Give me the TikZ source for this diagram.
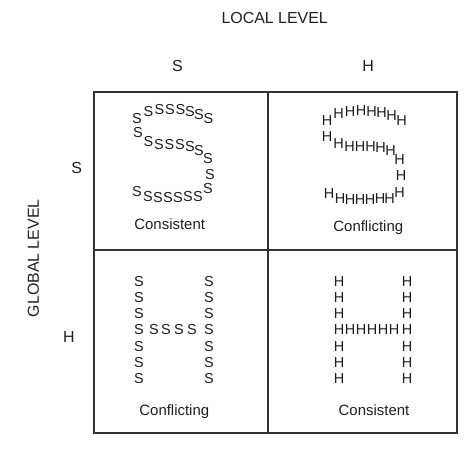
\documentclass[tikz,border=0pt]{standalone}
\usepackage{fontspec}
\setmainfont{Liberation Sans}
\definecolor{ink}{HTML}{1E1E1E}
\definecolor{rule}{HTML}{333333}
\begin{document}
\begin{tikzpicture}[x=1bp,y=-1bp,
  lbl/.style={font=\fontsize{16}{18}\selectfont, inner sep=0pt, text=ink},
  capt/.style={font=\fontsize{15}{17}\selectfont, inner sep=0pt, text=ink},
  lets/.style={font=\fontsize{14.5}{16}\selectfont, inner sep=0pt, text=ink},
  leth/.style={font=\fontsize{14.5}{16}\selectfont, inner sep=0pt, text=ink},
  gridline/.style={draw=rule, line width=1.4bp}]
\useasboundingbox (0,0) rectangle (473,451);
% grid
\draw[gridline] (94,92) rectangle (457,433);
\draw[gridline] (268,92) -- (268,433);
\draw[gridline] (94,250) -- (457,250);
% axis labels
\node[lbl, anchor=base] (local) at (274.7,23.2) {LOCAL LEVEL};
\node[lbl, anchor=base] (colS) at (177.5,71.5) {S};
\node[lbl, anchor=base] (colH) at (368,71.5) {H};
\node[lbl, rotate=90] (global) at (33.3,258.3) {GLOBAL LEVEL};
\node[lbl, anchor=base] (rowS) at (76.7,173.2) {S};
\node[lbl, anchor=base] (rowH) at (69,342.7) {H};
% top-left: S made of S
\foreach \x/\y [count=\i] in {137/119, 148.5/112, 159.5/109.5, 170/109.5, 180.5/110, 190/112, 199/114.5, 208.5/119,
  138/133, 148.5/141.5, 159/145, 169.5/145, 180/145, 190/147, 199/150.5, 208/158.5,
  210/175,
  137/192, 148/197, 158/197.5, 168/197.5, 178/197.5, 188/197, 198/197, 208/188.5}
  \node[lets, name=ss\i] at (\x,\y) {S};
% top-right: S made of H
\foreach \x/\y [count=\i] in {327/121, 338.5/114, 350/112, 361/111, 371.5/112, 381.5/113, 391.5/116, 401.5/121,
  327/137, 338.5/144, 349.5/147, 360/147, 370.5/147, 380.5/148, 390.5/151, 399.5/160,
  401/176,
  329/194, 340/199, 350/199.5, 360/199.5, 370/199.5, 380/199, 389.5/199, 399.5/193}
  \node[leth, name=sh\i] at (\x,\y) {H};
% bottom-left: H made of S
\foreach \y [count=\i] in {281.5,297.5,313.5,330,346.5,362.5,378.5} {
  \node[lets, name=hsl\i] at (139,\y) {S};
  \node[lets, name=hsr\i] at (209,\y) {S};
}
\foreach \x [count=\i] in {154,166,179,192}
  \node[lets, name=hsm\i] at (\x,330) {S};
% bottom-right: H made of H
\foreach \y [count=\i] in {281.5,297.5,313.5,330,346.5,362.5,378.5} {
  \node[lets, name=hhl\i] at (339,\y) {H};
  \node[lets, name=hhr\i] at (407,\y) {H};
}
\foreach \x [count=\i] in {350,361,372,383,394}
  \node[lets, name=hhm\i] at (\x,330) {H};
% captions
\node[capt] (c1) at (169.7,224) {Consistent};
\node[capt, anchor=base] (c2) at (368.3,231.2) {Conflicting};
\node[capt, anchor=base] (c3) at (174.3,415.4) {Conflicting};
\node[capt] (c4) at (374,410) {Consistent};
\end{tikzpicture}
\end{document}
